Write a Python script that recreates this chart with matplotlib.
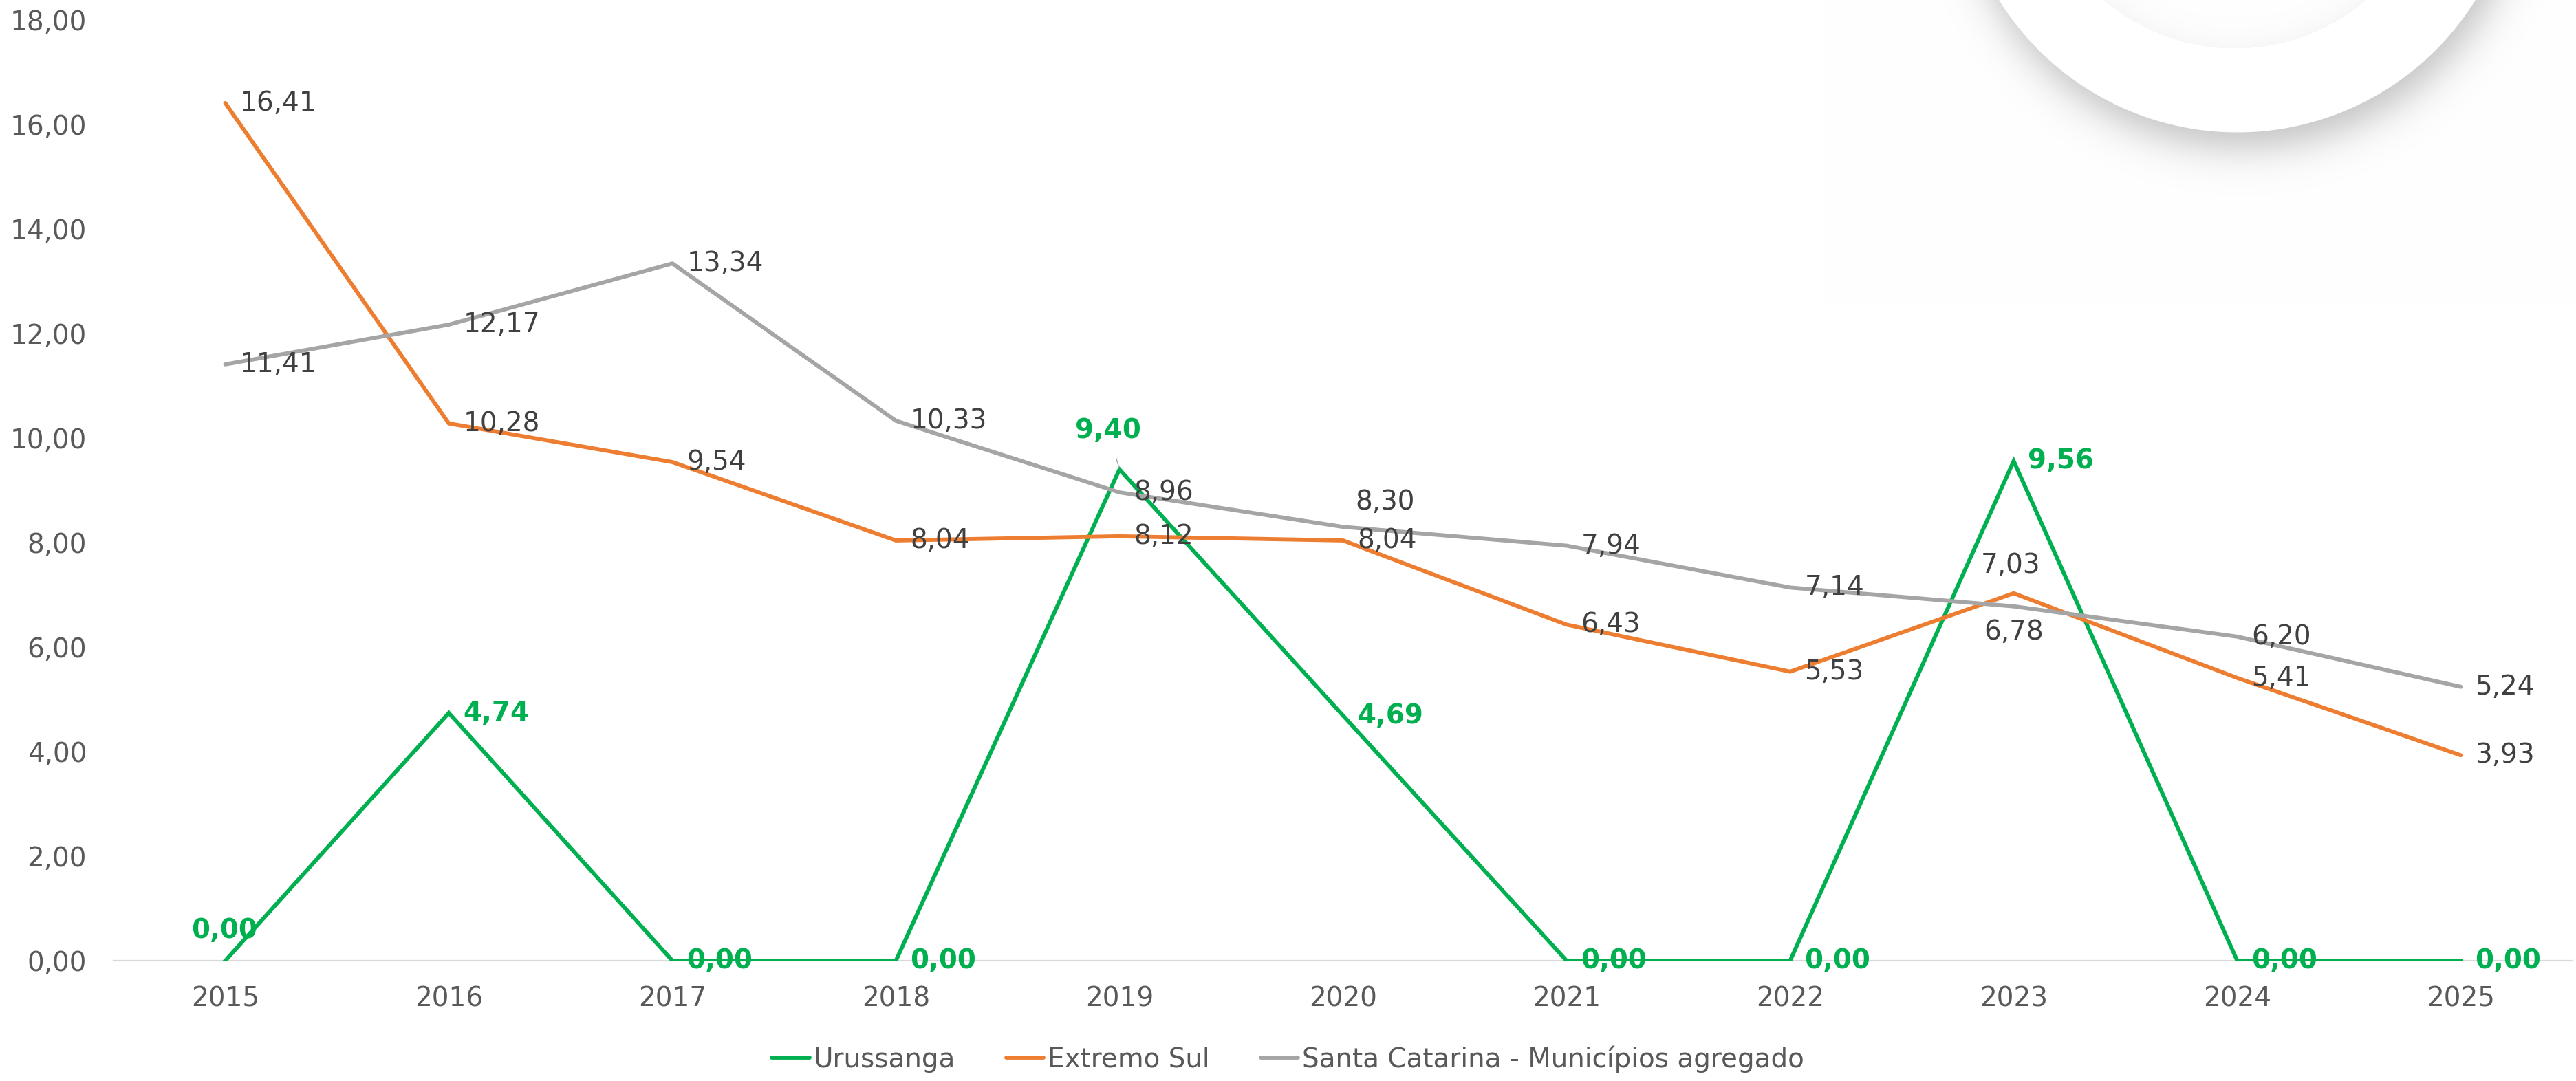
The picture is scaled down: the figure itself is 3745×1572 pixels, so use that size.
import numpy as np
import matplotlib
matplotlib.use("Agg")
import matplotlib.pyplot as plt
from matplotlib.lines import Line2D

# ---------------- data ----------------
years = ["2015", "2016", "2017", "2018", "2019", "2020", "2021", "2022", "2023", "2024", "2025"]
urussanga = [0.00, 4.74, 0.00, 0.00, 9.40, 4.69, 0.00, 0.00, 9.56, 0.00, 0.00]
extremo_sul = [16.41, 10.28, 9.54, 8.04, 8.12, 8.04, 6.43, 5.53, 7.03, 5.41, 3.93]
santa_catarina = [11.41, 12.17, 13.34, 10.33, 8.96, 8.30, 7.94, 7.14, 6.78, 6.20, 5.24]
series_names = ["Urussanga", "Extremo Sul", "Santa Catarina - Municípios agregado"]
y_ticks = [0, 2, 4, 6, 8, 10, 12, 14, 16, 18]

GREEN = "#00B050"
ORANGE = "#ED7D31"
GRAY = "#A5A5A5"
TICK_C = "#595959"
LAB_C = "#404040"

plt.rcParams['font.family'] = ['DejaVu Sans']

W, H = 3745, 1572
fig = plt.figure(figsize=(W / 100, H / 100), dpi=100)
fig.patch.set_facecolor("white")

# ---------------- decorative circle with shadow (top right) ----------------
bg = fig.add_axes([0, 0, 1, 1], zorder=0)
bg.set_xlim(0, W)
bg.set_ylim(H, 0)
bg.axis("off")
x0, x1, y0, y1 = 2650, W, 0, 440
yy, xx = np.mgrid[y0:y1, x0:x1].astype(float)
cx, cy, R = 3252.0, -216.0, 408.0
ds = np.hypot(xx - (cx + 8), yy - (cy + 22))
shadow = 0.24 / (1 + np.exp((ds - R) / 17.0))
d = np.hypot(xx - cx, yy - cy)
cover = np.clip(R - d + 0.5, 0, 1)
dark = shadow * (1 - cover)
# faint inner dish
ci_x, ci_y, Ri = 3249.0, -223.0, 293.0
di = np.hypot(xx - ci_x, yy - ci_y)
inner = np.where(di < Ri, 0.03 * np.exp(-(Ri - di) / 22.0), 0.0)
dark = dark + inner * cover
img = np.clip(1 - dark, 0, 1)
rgb = np.dstack([img, img, img])
bg.imshow(rgb, extent=(x0, x1, y1, y0), interpolation="bilinear", aspect="auto")

# ---------------- main chart ----------------
left = 165 / W
right = 3740 / W
bottom = 1 - 1397 / H
top = 1 - 29 / H
ax = fig.add_axes([left, bottom, right - left, top - bottom], zorder=1)
ax.set_facecolor("none")

x = np.arange(len(years))
lw = 4.2
ax.plot(x, urussanga, color=GREEN, lw=lw, zorder=3, solid_joinstyle="miter")
ax.plot(x, extremo_sul, color=ORANGE, lw=lw, zorder=4, solid_capstyle="round")
ax.plot(x, santa_catarina, color=GRAY, lw=lw, zorder=5, solid_capstyle="round")

ax.set_xlim(-0.5, len(years) - 0.5)
ax.set_ylim(0, 18)
ax.set_yticks(y_ticks)
ax.set_yticklabels([f"{v:.2f}".replace(".", ",") for v in y_ticks])
ax.set_xticks(x)
ax.set_xticklabels(years)
ax.tick_params(axis="y", length=0, pad=28, labelsize=28, labelcolor=TICK_C)
ax.tick_params(axis="x", length=0, pad=26, labelsize=28, labelcolor=TICK_C)
for s in ["left", "right", "top"]:
    ax.spines[s].set_visible(False)
ax.spines["bottom"].set_color("#D9D9D9")
ax.spines["bottom"].set_linewidth(1.6)


def fmt(v):
    return f"{v:.2f}".replace(".", ",")


def lab(i, v, pos, color=LAB_C, bold=False, dx=0, dy=0, leader=False):
    if pos == "right":
        off, ha, va = (15 + dx, dy), "left", "center"
    elif pos == "above":
        off, ha, va = (dx, 34 + dy), "center", "center"
    elif pos == "below":
        off, ha, va = (dx, -27 + dy), "center", "center"
    kw = {}
    if leader:
        kw["arrowprops"] = dict(arrowstyle="-", color="#A6A6A6", lw=1.0,
                                shrinkA=14, shrinkB=2)
    ax.annotate(fmt(v), (i, v), xytext=off, textcoords="offset points",
                ha=ha, va=va, fontsize=28, color=color,
                fontweight="bold" if bold else "normal", zorder=10,
                annotation_clip=False, **kw)


# Urussanga labels
u_pos = ["above", "right", "right", "right", "above", "right", "right", "right", "right", "right", "right"]
for i, v in enumerate(urussanga):
    if i == 4:
        lab(i, v, "above", GREEN, True, dx=-12, dy=7, leader=True)
    elif i == 0:
        lab(i, v, "above", GREEN, True, dx=-1, dy=-2, leader=True)
    else:
        lab(i, v, u_pos[i], GREEN, True)

# Extremo Sul labels
e_pos = ["right", "right", "right", "right", "right", "right", "right", "right", "above", "right", "right"]
for i, v in enumerate(extremo_sul):
    if e_pos[i] == "above":
        lab(i, v, "above", dx=-3, dy=-5)
    else:
        lab(i, v, e_pos[i])

# Santa Catarina labels
s_pos = ["right", "right", "right", "right", "right", "right", "right", "right", "below", "right", "right"]
for i, v in enumerate(santa_catarina):
    if i == 5:
        lab(i, v, "right", dx=-2, dy=26)
    else:
        lab(i, v, s_pos[i])

# ---------------- legend ----------------
handles = [Line2D([0], [0], color=c, lw=lw, solid_capstyle="round") for c in (GREEN, ORANGE, GRAY)]
leg = fig.legend(handles, series_names, loc="center", bbox_to_anchor=(0.5, 1 - 1540 / H),
                 ncol=3, frameon=False, fontsize=28, handlelength=1.4, handletextpad=0.15,
                 columnspacing=1.9, labelcolor=TICK_C)

fig.savefig("out.png", dpi=100, facecolor="white")
